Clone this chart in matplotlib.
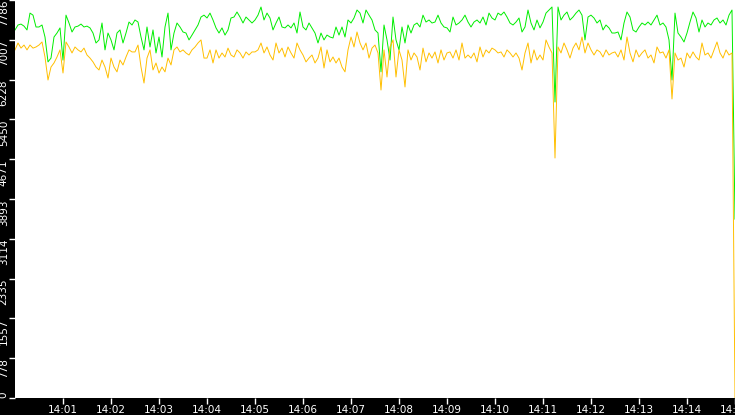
import matplotlib
matplotlib.use("Agg")
import matplotlib.pyplot as plt
import numpy as np

# ---- data ----
green_values = [
    7200, 7297, 7315, 7275, 7200, 7530, 7490, 7258, 7258, 7297, 7062, 6575, 6650, 7062, 7140, 7240, 6610, 7490, 7336, 7160,
    7258, 7275, 7315, 7258, 7275, 7240, 7140, 6945, 7005, 7336, 6810, 7140, 7005, 6810, 7140, 7200, 6945, 7140, 7355, 7297,
    7395, 7355, 7062, 6810, 7258, 6867, 7200, 6750, 7062, 6671, 7258, 7530, 6810, 7140, 7336, 7258, 7160, 7140, 7005, 7100,
    7200, 7297, 7453, 7490, 7434, 7530, 7395, 7240, 7140, 7240, 7100, 7200, 7434, 7453, 7551, 7453, 7336, 7453, 7395, 7336,
    7395, 7490, 7649, 7395, 7530, 7434, 7200, 7336, 7453, 7258, 7240, 7297, 7240, 7336, 7140, 7551, 7258, 7200, 7336, 7240,
    7140, 6945, 7140, 7005, 7100, 7062, 7043, 7258, 7100, 7258, 7062, 7395, 7336, 7434, 7590, 7530, 7336, 7590, 7490, 7395,
    7200, 7140, 6380, 7297, 7005, 6612, 7453, 7005, 6810, 7258, 6945, 7297, 7140, 7297, 7336, 7258, 7490, 7355, 7395, 7336,
    7355, 7490, 7336, 7258, 7240, 7160, 7453, 7297, 7336, 7395, 7490, 7355, 7258, 7355, 7395, 7336, 7453, 7297, 7530, 7434,
    7395, 7530, 7490, 7551, 7453, 7336, 7297, 7355, 7434, 7160, 7258, 7590, 7336, 7200, 7395, 7240, 7355, 7530, 7590, 7649,
    5790, 7649, 7395, 7490, 7551, 7395, 7453, 7530, 7590, 7490, 7005, 7453, 7490, 7434, 7336, 7395, 7200, 7297, 7240, 7140,
    7140, 7160, 7005, 7336, 7551, 7453, 7200, 7160, 7258, 7336, 7297, 7355, 7297, 7395, 7490, 7297, 7336, 7258, 7005, 6221,
    7530, 7140, 7062, 6965, 7140, 7355, 7551, 7434, 7160, 7395, 7258, 7336, 7297, 7395, 7434, 7336, 7395, 7297, 7490, 7590,
    3500,
]
orange_values = [
    6810, 6945, 6845, 6905, 6810, 6905, 6845, 6867, 6905, 6965, 6671, 6221, 6475, 6554, 6671, 6810, 6358, 6965, 6867, 6750,
    6867, 6810, 6770, 6845, 6710, 6650, 6575, 6475, 6417, 6612, 6475, 6260, 6650, 6475, 6380, 6612, 6515, 6671, 6810, 6770,
    6770, 6905, 6475, 6162, 6650, 6810, 6417, 6554, 6358, 6475, 6380, 6650, 6515, 6810, 6867, 6770, 6810, 6750, 6710, 6810,
    6867, 6945, 7005, 6650, 6650, 6810, 6554, 6810, 6650, 6750, 6671, 6845, 6710, 6671, 6810, 6750, 6650, 6770, 6710, 6770,
    6770, 6810, 6945, 6750, 6867, 6710, 6612, 6945, 6750, 6845, 6671, 6867, 6750, 6650, 6945, 6810, 6710, 6575, 6650, 6710,
    6554, 6650, 6867, 6456, 6810, 6575, 6671, 6554, 6650, 6475, 6380, 6810, 7062, 6867, 7160, 6945, 6810, 6945, 6650, 6845,
    6905, 6750, 6025, 6810, 6280, 6867, 7005, 6280, 6810, 6612, 6085, 6810, 6612, 6750, 6671, 6417, 6845, 6575, 6750, 6650,
    6770, 6554, 6810, 6612, 6750, 6770, 6650, 6810, 6612, 6945, 6650, 6710, 6650, 6750, 6575, 6867, 6671, 6810, 6750, 6845,
    6810, 6750, 6770, 6671, 6810, 6750, 6671, 6750, 6650, 6417, 6750, 6945, 6554, 6810, 6612, 6710, 6612, 7005, 6867, 6750,
    4695, 6867, 6750, 6945, 6810, 6650, 6845, 6945, 6810, 7062, 6750, 6945, 6810, 6710, 6810, 6770, 6671, 6810, 6710, 6750,
    6770, 6671, 6810, 6612, 7062, 6750, 6575, 6810, 6671, 6750, 6810, 6650, 6710, 6554, 6867, 6750, 6770, 6650, 6810, 5850,
    6750, 6612, 6650, 6475, 6750, 6650, 6770, 6671, 6612, 6945, 6710, 6750, 6650, 6810, 6965, 6750, 6650, 6810, 6710, 6750,
    0,
]
# sample times in seconds after 14:00:00 (one reading every 3.75 s, last at 14:15:00)
sample_seconds = [i * 3.75 for i in range(240)] + [900.0]

x_tick_seconds = [60 * m for m in range(1, 16)]
x_tick_labels = ["14:01", "14:02", "14:03", "14:04", "14:05", "14:06", "14:07", "14:08",
                 "14:09", "14:10", "14:11", "14:12", "14:13", "14:14", "14:15"]
y_max = 7786.0
y_tick_labels = ["0", "778", "1557", "2335", "3114", "3893", "4671", "5450", "6228", "7007", "7786"]

# ---- figure ----
W, H = 735, 415
fig = plt.figure(figsize=(W / 100, H / 100), dpi=100, facecolor="black")
ax = fig.add_axes([15 / W, 17 / H, 720 / W, 398 / H], facecolor="white")

ax.plot(sample_seconds, green_values, color="#00ee00", lw=0.7, zorder=2)
ax.plot(sample_seconds, orange_values, color="#ffbf00", lw=0.7, zorder=3)

ax.set_xlim(0, 900)
ax.set_ylim(0, y_max)

for s in ax.spines.values():
    s.set_visible(False)

ax.set_xticks(x_tick_seconds)
ax.set_xticklabels(x_tick_labels)
y_ticks = np.linspace(0, y_max, len(y_tick_labels))
ax.set_yticks(y_ticks)
ax.set_yticklabels(y_tick_labels)

ax.tick_params(axis="x", colors="white", length=4, width=1, pad=1, labelsize=7.5)
ax.tick_params(axis="y", colors="white", length=4, width=1, pad=0.5, labelsize=7.5)

for i, lab in enumerate(ax.get_yticklabels()):
    lab.set_rotation(90)
    lab.set_ha("right")
    lab.set_va("bottom" if i == 0 else "top")

fig.savefig("out.png", dpi=100, facecolor="black")
